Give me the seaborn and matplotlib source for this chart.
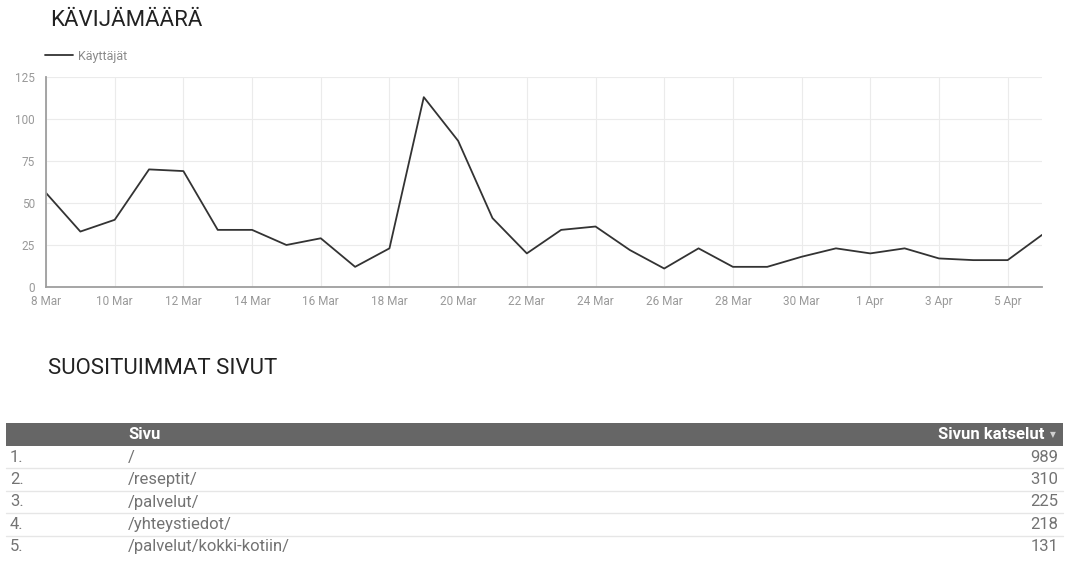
import numpy as np
import pandas as pd
import seaborn as sns
import matplotlib.pyplot as plt
from matplotlib.patches import Rectangle

# data
day_labels = ['8 Mar', '9 Mar', '10 Mar', '11 Mar', '12 Mar', '13 Mar', '14 Mar', '15 Mar',
              '16 Mar', '17 Mar', '18 Mar', '19 Mar', '20 Mar', '21 Mar', '22 Mar', '23 Mar',
              '24 Mar', '25 Mar', '26 Mar', '27 Mar', '28 Mar', '29 Mar', '30 Mar', '31 Mar',
              '1 Apr', '2 Apr', '3 Apr', '4 Apr', '5 Apr', '6 Apr']
users = [56, 33, 40, 70, 69, 34, 34, 25, 29, 12, 23, 113, 87, 41, 20, 34,
         36, 22, 11, 23, 12, 12, 18, 23, 20, 23, 17, 16, 16, 31]
yticks = [0, 25, 50, 75, 100, 125]

ranks = ['1.', '2.', '3.', '4.', '5.']
pages = ['/', '/reseptit/', '/palvelut/', '/yhteystiedot/', '/palvelut/kokki-kotiin/']
views = [989, 310, 225, 218, 131]

df = pd.DataFrame({'day': np.arange(len(users)), 'Käyttäjät': users})

sns.set_style('white')
plt.rcParams['font.family'] = ['Roboto', 'DejaVu Sans']

W, H = 1066, 588
fig = plt.figure(figsize=(W / 100, H / 100), dpi=100)

# line chart
ax = fig.add_axes([46 / W, 1 - 287 / H, (1042 - 46) / W, (287 - 77) / H])
sns.lineplot(data=df, x='day', y='Käyttäjät', ax=ax, color='#333333',
             linewidth=1.3, label='Käyttäjät')
ax.set_xlim(0, len(users) - 1)
ax.set_ylim(0, 125)
ax.set_xticks(df['day'][::2])
ax.set_xticklabels(day_labels[::2])
ax.set_yticks(yticks)
ax.set_xlabel('')
ax.set_ylabel('')
ax.grid(color='#ebebeb', linewidth=0.8)
ax.tick_params(length=0, labelsize=8.5, labelcolor='#999999')
ax.tick_params(axis='y', pad=8)
ax.tick_params(axis='x', pad=6)
for s in ['top', 'right']:
    ax.spines[s].set_visible(False)
for s in ['left', 'bottom']:
    ax.spines[s].set_color('#9e9e9e')
    ax.spines[s].set_linewidth(1.3)

leg = ax.legend(loc='lower left', bbox_to_anchor=(-0.006, 1.045), frameon=False,
                fontsize=9, handlelength=2.2, handletextpad=0.4, borderaxespad=0)
for t in leg.get_texts():
    t.set_color('#8a8a8a')

# titles
fig.text(50 / W, 1 - 21 / H, 'KÄVIJÄMÄÄRÄ', fontsize=16, color='#222222', va='center')
fig.text(48 / W, 1 - 369 / H, 'SUOSITUIMMAT SIVUT', fontsize=16, color='#222222', va='center')

# table
tab = fig.add_axes([0, 0, 1, 1])
tab.set_xlim(0, W)
tab.set_ylim(H, 0)
tab.axis('off')
top, hh, rh = 423, 23, 22.4
fs = 12
tab.add_patch(Rectangle((6, top), 1063 - 6, hh, color='#666666', lw=0))
tab.text(128, top + hh / 2, 'Sivu', color='white', fontsize=fs, fontweight='bold', va='center')
tab.text(1044, top + hh / 2, 'Sivun katselut', color='white', fontsize=fs,
         fontweight='bold', va='center', ha='right')
tab.text(1053, top + hh / 2, '▼', color='#d0d0d0', fontsize=5.5, va='center', ha='center')
for i in range(len(pages)):
    yc = top + hh + rh * (i + 0.5)
    tab.text(10, yc, ranks[i], color='#737373', fontsize=fs, va='center')
    tab.text(128, yc, pages[i], color='#737373', fontsize=fs, va='center')
    tab.text(1058, yc, str(views[i]), color='#737373', fontsize=fs, va='center', ha='right')
    if i < len(pages) - 1:
        yl = top + hh + rh * (i + 1)
        tab.plot([6, 1063], [yl, yl], color='#e6e6e6', lw=1)

fig.savefig('out.png', dpi=100, facecolor='white')
